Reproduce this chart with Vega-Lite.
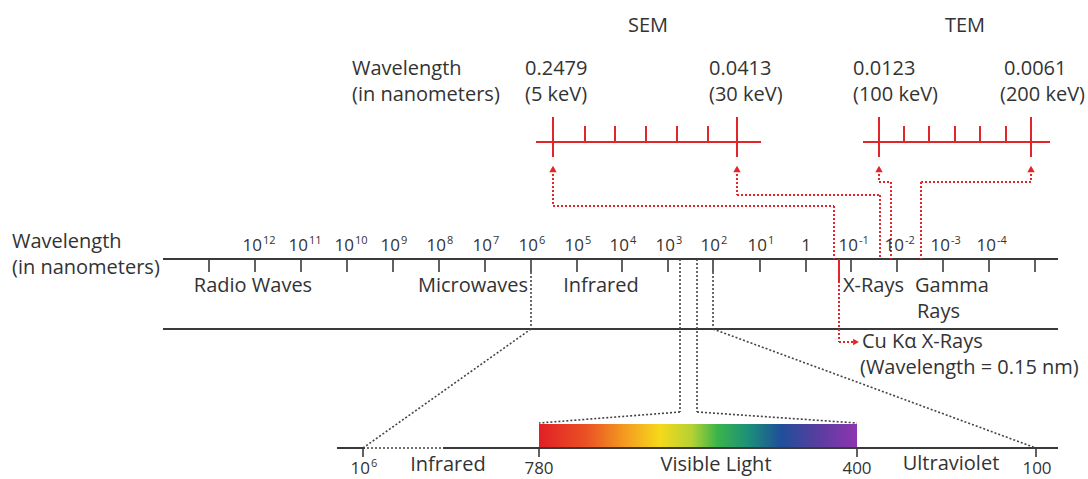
{
  "$schema": "https://vega.github.io/schema/vega-lite/v6.json",
  "width": 1088,
  "height": 479,
  "padding": 0,
  "autosize": {"type": "fit", "contains": "padding"},
  "background": "white",
  "config": {"view": {"stroke": null}, "text": {"font": "Open Sans"}},
  "datasets": {
    "segs": [
      {"g": "line", "x": 163, "y": 259, "x2": 1058, "y2": 259},
      {"g": "line", "x": 163, "y": 329, "x2": 1058, "y2": 329},
      {"g": "line", "x": 337, "y": 448, "x2": 365, "y2": 448},
      {"g": "line", "x": 443, "y": 448, "x2": 1058, "y2": 448},
      {"g": "tick", "x": 209, "y": 259, "x2": 209, "y2": 272},
      {"g": "tick", "x": 255, "y": 259, "x2": 255, "y2": 272},
      {"g": "tick", "x": 301, "y": 259, "x2": 301, "y2": 272},
      {"g": "tick", "x": 347, "y": 259, "x2": 347, "y2": 272},
      {"g": "tick", "x": 393, "y": 259, "x2": 393, "y2": 272},
      {"g": "tick", "x": 439, "y": 259, "x2": 439, "y2": 272},
      {"g": "tick", "x": 485, "y": 259, "x2": 485, "y2": 272},
      {"g": "tick", "x": 531, "y": 259, "x2": 531, "y2": 272},
      {"g": "tick", "x": 577, "y": 259, "x2": 577, "y2": 272},
      {"g": "tick", "x": 622, "y": 259, "x2": 622, "y2": 272},
      {"g": "tick", "x": 668, "y": 259, "x2": 668, "y2": 272},
      {"g": "tick", "x": 713, "y": 259, "x2": 713, "y2": 272},
      {"g": "tick", "x": 760, "y": 259, "x2": 760, "y2": 272},
      {"g": "tick", "x": 806, "y": 259, "x2": 806, "y2": 272},
      {"g": "tick", "x": 851, "y": 259, "x2": 851, "y2": 272},
      {"g": "tick", "x": 897, "y": 259, "x2": 897, "y2": 272},
      {"g": "tick", "x": 943, "y": 259, "x2": 943, "y2": 272},
      {"g": "tick", "x": 989, "y": 259, "x2": 989, "y2": 272},
      {"g": "tick", "x": 1035, "y": 259, "x2": 1035, "y2": 272},
      {"g": "tick", "x": 363, "y": 448, "x2": 363, "y2": 457},
      {"g": "tick", "x": 539, "y": 448, "x2": 539, "y2": 457},
      {"g": "tick", "x": 857, "y": 448, "x2": 857, "y2": 457},
      {"g": "tick", "x": 1036, "y": 448, "x2": 1036, "y2": 457},
      {"g": "dot", "x": 531, "y": 272, "x2": 531, "y2": 329},
      {"g": "dot", "x": 531, "y": 329, "x2": 363, "y2": 448},
      {"g": "dot", "x": 680, "y": 259, "x2": 680, "y2": 412},
      {"g": "dot", "x": 680, "y": 412, "x2": 539, "y2": 423},
      {"g": "dot", "x": 697, "y": 259, "x2": 697, "y2": 412},
      {"g": "dot", "x": 697, "y": 412, "x2": 857, "y2": 423},
      {"g": "dot", "x": 713, "y": 272, "x2": 713, "y2": 329},
      {"g": "dot", "x": 713, "y": 329, "x2": 1036, "y2": 448},
      {"g": "dot", "x": 367, "y": 448, "x2": 443, "y2": 448},
      {"g": "red", "x": 536, "y": 142, "x2": 761, "y2": 142},
      {"g": "red", "x": 553, "y": 117, "x2": 553, "y2": 157},
      {"g": "red", "x": 737, "y": 117, "x2": 737, "y2": 157},
      {"g": "red", "x": 585, "y": 126, "x2": 585, "y2": 142},
      {"g": "red", "x": 615, "y": 126, "x2": 615, "y2": 142},
      {"g": "red", "x": 646, "y": 126, "x2": 646, "y2": 142},
      {"g": "red", "x": 677, "y": 126, "x2": 677, "y2": 142},
      {"g": "red", "x": 708, "y": 126, "x2": 708, "y2": 142},
      {"g": "red", "x": 863, "y": 142, "x2": 1050, "y2": 142},
      {"g": "red", "x": 879, "y": 117, "x2": 879, "y2": 157},
      {"g": "red", "x": 1031, "y": 117, "x2": 1031, "y2": 157},
      {"g": "red", "x": 904, "y": 126, "x2": 904, "y2": 142},
      {"g": "red", "x": 929, "y": 126, "x2": 929, "y2": 142},
      {"g": "red", "x": 955, "y": 126, "x2": 955, "y2": 142},
      {"g": "red", "x": 980, "y": 126, "x2": 980, "y2": 142},
      {"g": "red", "x": 1006, "y": 126, "x2": 1006, "y2": 142},
      {"g": "red", "x": 839, "y": 259, "x2": 839, "y2": 281},
      {"g": "reddot", "x": 553, "y": 174, "x2": 553, "y2": 206},
      {"g": "reddot", "x": 553, "y": 206, "x2": 834, "y2": 206},
      {"g": "reddot", "x": 834, "y": 206, "x2": 834, "y2": 259},
      {"g": "reddot", "x": 737, "y": 174, "x2": 737, "y2": 195},
      {"g": "reddot", "x": 737, "y": 195, "x2": 880, "y2": 195},
      {"g": "reddot", "x": 880, "y": 195, "x2": 880, "y2": 259},
      {"g": "reddot", "x": 879, "y": 174, "x2": 879, "y2": 182},
      {"g": "reddot", "x": 879, "y": 182, "x2": 891, "y2": 182},
      {"g": "reddot", "x": 891, "y": 182, "x2": 891, "y2": 259},
      {"g": "reddot", "x": 1031, "y": 174, "x2": 1031, "y2": 182},
      {"g": "reddot", "x": 1031, "y": 182, "x2": 921, "y2": 182},
      {"g": "reddot", "x": 921, "y": 182, "x2": 921, "y2": 259},
      {"g": "reddot", "x": 839, "y": 281, "x2": 839, "y2": 342},
      {"g": "reddot", "x": 839, "y": 342, "x2": 853, "y2": 342}
    ],
    "arrows": [
      {"dir": "up", "x": 553, "y": 169},
      {"dir": "up", "x": 737, "y": 169},
      {"dir": "up", "x": 879, "y": 169},
      {"dir": "up", "x": 1031, "y": 169},
      {"dir": "right", "x": 856, "y": 342}
    ],
    "spectrum": [{"x": 539, "x2": 857, "y": 424, "y2": 448}],
    "texts": [
      {"g": "left", "t": "Wavelength", "x": 352, "y": 75},
      {"g": "left", "t": "(in nanometers)", "x": 352, "y": 101},
      {"g": "left", "t": "0.2479", "x": 525, "y": 75},
      {"g": "left", "t": "(5 keV)", "x": 525, "y": 101},
      {"g": "left", "t": "0.0413", "x": 709, "y": 75},
      {"g": "left", "t": "(30 keV)", "x": 709, "y": 101},
      {"g": "left", "t": "0.0123", "x": 853, "y": 75},
      {"g": "left", "t": "(100 keV)", "x": 853, "y": 101},
      {"g": "left", "t": "0.0061", "x": 1004, "y": 75},
      {"g": "left", "t": "(200 keV)", "x": 1000, "y": 101},
      {"g": "left", "t": "Wavelength", "x": 12, "y": 248},
      {"g": "left", "t": "(in nanometers)", "x": 12, "y": 274},
      {"g": "left", "t": "X-Rays", "x": 843, "y": 292},
      {"g": "left", "t": "Gamma", "x": 915, "y": 292},
      {"g": "left", "t": "Rays", "x": 917, "y": 318},
      {"g": "left", "t": "Cu Kα X-Rays", "x": 862, "y": 348},
      {"g": "left", "t": "(Wavelength = 0.15 nm)", "x": 860, "y": 374},
      {"g": "mid", "t": "SEM", "x": 648, "y": 32},
      {"g": "mid", "t": "TEM", "x": 965, "y": 32},
      {"g": "mid", "t": "Radio Waves", "x": 253, "y": 292},
      {"g": "mid", "t": "Microwaves", "x": 473, "y": 292},
      {"g": "mid", "t": "Infrared", "x": 601, "y": 292},
      {"g": "mid", "t": "Infrared", "x": 448, "y": 471},
      {"g": "mid", "t": "Visible Light", "x": 716, "y": 471},
      {"g": "mid", "t": "Ultraviolet", "x": 951, "y": 470},
      {"g": "num", "t": "780", "x": 539, "y": 474},
      {"g": "num", "t": "400", "x": 857, "y": 474},
      {"g": "num", "t": "100", "x": 1037, "y": 474}
    ],
    "powers": [
      {"x": 255, "y": 251, "b": "10", "e": "12"},
      {"x": 301, "y": 251, "b": "10", "e": "11"},
      {"x": 347, "y": 251, "b": "10", "e": "10"},
      {"x": 393, "y": 251, "b": "10", "e": "9"},
      {"x": 439, "y": 251, "b": "10", "e": "8"},
      {"x": 485, "y": 251, "b": "10", "e": "7"},
      {"x": 531, "y": 251, "b": "10", "e": "6"},
      {"x": 577, "y": 251, "b": "10", "e": "5"},
      {"x": 622, "y": 251, "b": "10", "e": "4"},
      {"x": 668, "y": 251, "b": "10", "e": "3"},
      {"x": 713, "y": 251, "b": "10", "e": "2"},
      {"x": 760, "y": 251, "b": "10", "e": "1"},
      {"x": 804, "y": 251, "b": "1", "e": ""},
      {"x": 851, "y": 251, "b": "10", "e": "-1"},
      {"x": 897, "y": 251, "b": "10", "e": "-2"},
      {"x": 943, "y": 251, "b": "10", "e": "-3"},
      {"x": 989, "y": 251, "b": "10", "e": "-4"},
      {"x": 363, "y": 474, "b": "10", "e": "6"}
    ]
  },
  "encoding": {
    "x": {"field": "x", "type": "quantitative", "scale": {"domain": [0, 1088], "nice": false, "zero": false}, "axis": null},
    "y": {"field": "y", "type": "quantitative", "scale": {"domain": [0, 479], "reverse": true, "nice": false, "zero": false}, "axis": null}
  },
  "layer": [
    {
      "data": {"name": "spectrum"},
      "mark": {"type": "rect", "fill": {"gradient": "linear", "x1": 0, "y1": 0, "x2": 1, "y2": 0, "stops": [
        {"offset": 0, "color": "#e11f26"},
        {"offset": 0.15, "color": "#ea5224"},
        {"offset": 0.27, "color": "#f39b20"},
        {"offset": 0.38, "color": "#f6d91b"},
        {"offset": 0.48, "color": "#b5d233"},
        {"offset": 0.56, "color": "#3bb44a"},
        {"offset": 0.66, "color": "#1b8f7a"},
        {"offset": 0.76, "color": "#1f4f9a"},
        {"offset": 0.88, "color": "#5a3d9f"},
        {"offset": 1, "color": "#8e35b0"}
      ]}},
      "encoding": {"x2": {"field": "x2"}, "y2": {"field": "y2"}}
    },
    {
      "data": {"name": "segs"},
      "transform": [{"filter": "datum.g === 'line'"}],
      "mark": {"type": "rule", "color": "#3a3a3a", "strokeWidth": 2},
      "encoding": {"x2": {"field": "x2"}, "y2": {"field": "y2"}}
    },
    {
      "data": {"name": "segs"},
      "transform": [{"filter": "datum.g === 'tick'"}],
      "mark": {"type": "rule", "color": "#3a3a3a", "strokeWidth": 1.6},
      "encoding": {"x2": {"field": "x2"}, "y2": {"field": "y2"}}
    },
    {
      "data": {"name": "segs"},
      "transform": [{"filter": "datum.g === 'dot'"}],
      "mark": {"type": "rule", "color": "#444444", "strokeWidth": 1.6, "strokeDash": [2, 2]},
      "encoding": {"x2": {"field": "x2"}, "y2": {"field": "y2"}}
    },
    {
      "data": {"name": "segs"},
      "transform": [{"filter": "datum.g === 'red'"}],
      "mark": {"type": "rule", "color": "#e2252b", "strokeWidth": 2},
      "encoding": {"x2": {"field": "x2"}, "y2": {"field": "y2"}}
    },
    {
      "data": {"name": "segs"},
      "transform": [{"filter": "datum.g === 'reddot'"}],
      "mark": {"type": "rule", "color": "#e2252b", "strokeWidth": 2, "strokeDash": [2, 2]},
      "encoding": {"x2": {"field": "x2"}, "y2": {"field": "y2"}}
    },
    {
      "data": {"name": "arrows"},
      "transform": [{"filter": "datum.dir === 'up'"}],
      "mark": {"type": "point", "shape": "triangle-up", "filled": true, "color": "#e2252b", "size": 55, "opacity": 1}
    },
    {
      "data": {"name": "arrows"},
      "transform": [{"filter": "datum.dir === 'right'"}],
      "mark": {"type": "point", "shape": "triangle-right", "filled": true, "color": "#e2252b", "size": 45, "opacity": 1}
    },
    {
      "data": {"name": "texts"},
      "transform": [{"filter": "datum.g === 'left'"}],
      "mark": {"type": "text", "align": "left", "baseline": "alphabetic", "fontSize": 20, "color": "#333333"},
      "encoding": {"text": {"field": "t"}}
    },
    {
      "data": {"name": "texts"},
      "transform": [{"filter": "datum.g === 'mid'"}],
      "mark": {"type": "text", "align": "center", "baseline": "alphabetic", "fontSize": 20, "color": "#333333"},
      "encoding": {"text": {"field": "t"}}
    },
    {
      "data": {"name": "texts"},
      "transform": [{"filter": "datum.g === 'num'"}],
      "mark": {"type": "text", "align": "center", "baseline": "alphabetic", "fontSize": 17, "color": "#333333"},
      "encoding": {"text": {"field": "t"}}
    },
    {
      "data": {"name": "powers"},
      "mark": {"type": "text", "align": "right", "baseline": "alphabetic", "fontSize": 17, "dx": 7, "color": "#333333"},
      "encoding": {"text": {"field": "b"}}
    },
    {
      "data": {"name": "powers"},
      "mark": {"type": "text", "align": "left", "baseline": "alphabetic", "fontSize": 11, "dx": 8, "dy": -7, "color": "#333333"},
      "encoding": {"text": {"field": "e"}}
    }
  ]
}
